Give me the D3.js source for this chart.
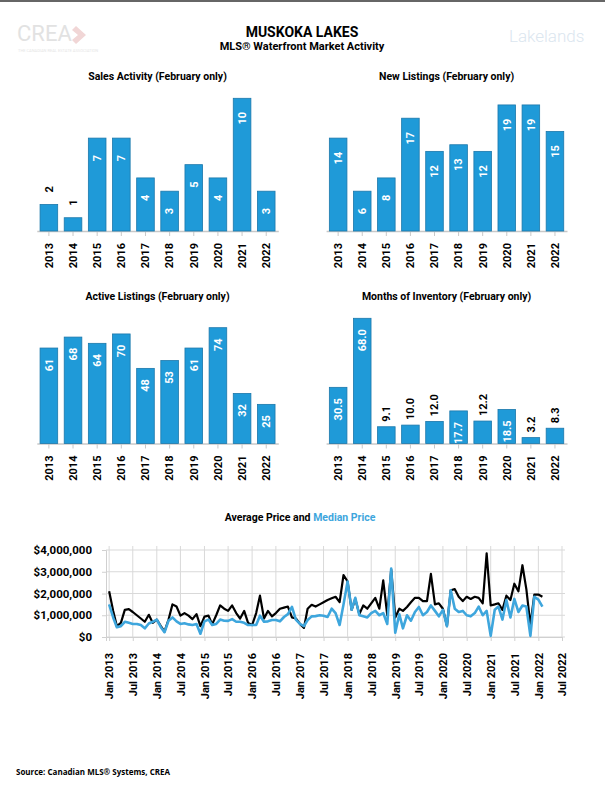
<!DOCTYPE html>
<html>
<head>
<meta charset="utf-8">
<script src="https://cdn.jsdelivr.net/npm/d3@7"></script>
<style>
  body { margin: 0; background: #fff; }
  svg { display: block; font-family: Roboto, 'Liberation Sans', sans-serif; }
</style>
</head>
<body>
<div id="chart"></div>
<script>
// february-only bar charts
const years = ['2013', '2014', '2015', '2016', '2017', '2018', '2019', '2020', '2021', '2022']
const salesActivity = [2, 1, 7, 7, 4, 3, 5, 4, 10, 3]
const newListings = [14, 6, 8, 17, 12, 13, 12, 19, 19, 15]
const activeListings = [61, 68, 64, 70, 48, 53, 61, 74, 32, 25]
const monthsInventory = [30.5, 68.0, 9.1, 10.0, 12.0, 17.7, 12.2, 18.5, 3.2, 8.3]

// monthly prices in $ thousands, Jan 2013 .. Feb 2022
const firstMonth = new Date(2013, 0, 1)
const averagePrice = [
  2100, 1200, 500, 650, 1250, 1280, 1150, 1000, 850, 700, 1020, 650,
  800, 500, 250, 800, 1500, 1400, 980, 1100, 980, 820, 1050, 500,
  940, 980, 580, 1000, 1450, 1300, 1200, 1450, 1100, 850, 1200, 650,
  550, 1100, 1900, 850, 1200, 950, 1100, 1300, 1350, 1400, 900, 850,
  600, 420, 1300, 1480, 1400, 1500, 1600, 1700, 1780, 1850, 1600, 2850,
  2550, 1250, 1750, 1050, 1450, 1300, 1550, 1800, 1300, 2600, 1000, 3100,
  900, 1300, 1200, 1380, 1600, 1800, 1800, 1650, 1650, 2900, 1500, 1550,
  1300, 500, 2150, 2200, 1850, 1650, 1850, 1750, 1850, 1800, 1550, 3850,
  1450, 1500, 1550, 1250, 1900, 1700, 2450, 2100, 3300, 2200, 550, 1950,
  1950, 1850
]
const medianPrice = [
  1500, 900, 450, 500, 700, 650, 600, 600, 550, 400, 620, 700,
  800, 450, 220, 750, 900, 720, 600, 630, 580, 550, 600, 150,
  720, 800, 550, 600, 800, 750, 740, 820, 700, 700, 650, 550,
  550, 550, 980, 700, 720, 780, 780, 720, 920, 1050, 1380, 800,
  600, 500, 780, 950, 960, 1000, 980, 920, 1300, 1100, 550, 1500,
  2550, 1250, 1800, 1000, 950, 900, 1100, 1200, 1000, 1100, 600, 3150,
  200, 1050, 400, 1000, 750, 1150, 1380, 1000, 1150, 1450, 1200, 950,
  1250, 500, 2150, 1300, 1150, 1200, 1000, 950, 1100, 1400, 1000, 1200,
  50, 1250, 1400, 800, 1700, 900, 1750, 1150, 1450, 1400, 50, 1850,
  1720, 1400
]
const priceTicks = [0, 1000, 2000, 3000, 4000]

const W = 605
const H = 792
const barFill = '#1f9ad8'
const medianColor = '#3ea6dd'

const svg = d3.select('#chart').append('svg')
  .attr('width', W)
  .attr('height', H)

svg.append('rect').attr('x', 0).attr('y', 0).attr('width', W).attr('height', 2).attr('fill', '#666')

// faint logos
svg.append('text').text('CREA')
  .attr('x', 17).attr('y', 41)
  .attr('font-size', 22).attr('fill', '#e2e2e2')
svg.append('path').attr('d', 'M76,26 l10,9 l-10,9 l-4,-4 l6,-5 l-6,-5 z').attr('fill', '#f1d6d6')
svg.append('text').text('THE CANADIAN REAL ESTATE ASSOCIATION')
  .attr('x', 18).attr('y', 52)
  .attr('font-size', 4).attr('fill', '#e6e6e6')
svg.append('text').text('Lakelands')
  .attr('x', 509).attr('y', 42)
  .attr('font-size', 17).attr('font-weight', 300).attr('fill', '#dbe6ef')

svg.append('text').text('MUSKOKA LAKES')
  .attr('x', 302).attr('y', 37)
  .attr('text-anchor', 'middle')
  .attr('font-size', 14).attr('font-weight', 'bold')
svg.append('text').text('MLS® Waterfront Market Activity')
  .attr('x', 302).attr('y', 50)
  .attr('text-anchor', 'middle')
  .attr('font-size', 11).attr('font-weight', 'bold')

function barChart (cfg) {
  let x = d3.scaleBand().domain(years)
    .range([cfg.x0, cfg.x1])
    .paddingInner(0.27)
    .paddingOuter(0.135)
  let y = d3.scaleLinear().domain([0, cfg.max]).range([cfg.base, cfg.top])
  let g = svg.append('g')

  g.append('text').text(cfg.title)
    .attr('x', (cfg.x0 + cfg.x1) / 2)
    .attr('y', cfg.top - 18)
    .attr('text-anchor', 'middle')
    .attr('font-size', 10.5).attr('font-weight', 'bold')

  let axis = g.append('g')
    .attr('transform', 'translate(0,' + cfg.base + ')')
    .call(d3.axisBottom(x).tickSize(5).tickSizeOuter(0))
  axis.select('.domain').attr('stroke', '#c8c8c8').attr('stroke-width', 1.5)
  axis.selectAll('.tick line').attr('stroke', '#c8c8c8')
  axis.selectAll('.tick text')
    .attr('transform', 'rotate(-90)')
    .attr('text-anchor', 'end')
    .attr('x', -12).attr('y', 0).attr('dy', '0.35em')
    .attr('font-size', 11).attr('font-weight', 'bold')
    .attr('font-family', 'Roboto, sans-serif')
    .attr('fill', '#000')

  let bar = g.selectAll('.bar')
    .data(cfg.values.map((v, i) => ({ year: years[i], v: v })))
    .enter().append('g').attr('class', 'bar')

  bar.append('rect')
    .attr('x', d => x(d.year))
    .attr('y', d => y(d.v))
    .attr('width', x.bandwidth())
    .attr('height', d => cfg.base - y(d.v))
    .attr('fill', barFill)
    .attr('stroke', '#1c78ab')
    .attr('stroke-width', 0.8)

  bar.append('text')
    .text(d => cfg.fmt(d.v))
    .attr('transform', d => {
      let cx = x(d.year) + x.bandwidth() / 2
      let h = cfg.base - y(d.v)
      let cy = h < 28 ? y(d.v) - cfg.above : y(d.v) + cfg.inside
      return 'translate(' + cx + ',' + cy + ') rotate(-90)'
    })
    .attr('text-anchor', d => (cfg.base - y(d.v)) < 28 ? 'start' : 'middle')
    .attr('dy', '0.35em')
    .attr('fill', d => (cfg.base - y(d.v)) < 28 ? '#000' : '#fff')
    .attr('font-size', 11).attr('font-weight', 'bold')
}

barChart({ title: 'Sales Activity (February only)', values: salesActivity, max: 10,
  x0: 36.8, x1: 278.3, base: 231, top: 98.3, inside: 20, above: 12, fmt: d3.format('d') })
barChart({ title: 'New Listings (February only)', values: newListings, max: 20,
  x0: 326.1, x1: 567, base: 231, top: 98.3, inside: 20, above: 12, fmt: d3.format('d') })
barChart({ title: 'Active Listings (February only)', values: activeListings, max: 80,
  x0: 36.8, x1: 278.3, base: 443.5, top: 318.3, inside: 17, above: 12, fmt: d3.format('d') })
barChart({ title: 'Months of Inventory (February only)', values: monthsInventory, max: 68,
  x0: 326.1, x1: 567, base: 443.5, top: 318.3, inside: 22, above: 5, fmt: d3.format('.1f') })

// price line chart
let months = averagePrice.map((v, i) => d3.timeMonth.offset(firstMonth, i))
let px = d3.scaleTime().domain([new Date(2012, 11, 8), new Date(2022, 6, 1)]).range([106, 562])
let py = d3.scaleLinear().domain([0, 4000]).range([637, 550])
let lg = svg.append('g')

let title = lg.append('text')
  .attr('x', 300).attr('y', 521)
  .attr('text-anchor', 'middle')
  .attr('font-size', 10.5).attr('font-weight', 'bold')
title.append('tspan').text('Average Price and ').attr('fill', '#000')
title.append('tspan').text(' Median Price').attr('fill', medianColor)

let monthTicks = d3.timeMonth.every(6).range(new Date(2013, 0, 1), new Date(2022, 6, 2))

lg.append('g').selectAll('line')
  .data(priceTicks).enter().append('line')
  .attr('x1', 106).attr('x2', 565)
  .attr('y1', d => py(d)).attr('y2', d => py(d))
  .attr('stroke', '#d9d9d9')
lg.append('g').selectAll('line')
  .data(monthTicks).enter().append('line')
  .attr('x1', d => px(d)).attr('x2', d => px(d))
  .attr('y1', py(4000) - 4).attr('y2', py(0))
  .attr('stroke', '#d9d9d9')

let yAxis = lg.append('g')
  .attr('transform', 'translate(106,0)')
  .call(d3.axisLeft(py).tickValues(priceTicks).tickSize(4).tickPadding(10)
    .tickFormat(d => '$' + d3.format(',')(d * 1000)))
yAxis.select('.domain').attr('stroke', '#d0d0d0')
yAxis.selectAll('.tick line').attr('stroke', '#d0d0d0')
yAxis.selectAll('.tick text')
  .attr('font-size', 11.5).attr('font-weight', 'bold')
  .attr('font-family', 'Roboto, sans-serif').attr('fill', '#000')

let xAxis = lg.append('g')
  .attr('transform', 'translate(0,637)')
  .call(d3.axisBottom(px).tickValues(monthTicks).tickSize(4)
    .tickFormat(d3.timeFormat('%b %Y')))
xAxis.select('.domain').attr('stroke', '#d0d0d0')
xAxis.selectAll('.tick line').attr('stroke', '#d0d0d0')
xAxis.selectAll('.tick text')
  .attr('transform', 'rotate(-90)')
  .attr('text-anchor', 'end')
  .attr('x', -16).attr('y', 0).attr('dy', '0.35em')
  .attr('font-size', 11).attr('font-weight', 'bold')
  .attr('font-family', 'Roboto, sans-serif').attr('fill', '#000')

let line = d3.line()
  .x(d => px(d[0]))
  .y(d => py(d[1]))

lg.append('path')
  .datum(months.map((m, i) => [m, averagePrice[i]]))
  .attr('d', line)
  .attr('fill', 'none')
  .attr('stroke', '#000')
  .attr('stroke-width', 2.2)
  .attr('stroke-linejoin', 'round')

lg.append('path')
  .datum(months.map((m, i) => [m, medianPrice[i]]))
  .attr('d', line)
  .attr('fill', 'none')
  .attr('stroke', medianColor)
  .attr('stroke-width', 2.6)
  .attr('stroke-linejoin', 'round')

svg.append('text').text('Source: Canadian MLS® Systems, CREA')
  .attr('x', 16).attr('y', 775)
  .attr('font-size', 8).attr('font-weight', 'bold')
  .attr('font-family', "'Open Sans', sans-serif")
</script>
</body>
</html>
